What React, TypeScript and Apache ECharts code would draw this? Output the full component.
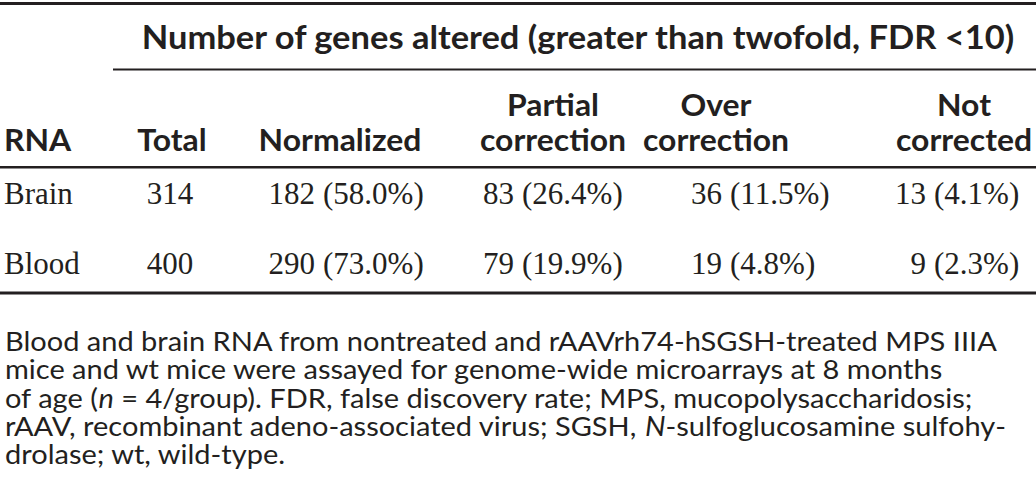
import React, { useEffect, useRef } from 'react';
import * as echarts from 'echarts';

// ---------- data ----------
const spannerTitle = 'Number of genes altered (greater than twofold, FDR <10)';
const headerLabels = ['RNA', 'Total', 'Normalized', 'Partial\ncorrection', 'Over\ncorrection', 'Not\ncorrected'];
const rowLabels = ['Brain', 'Blood'];
const totalGenes = [314, 400];
const normalizedCounts = [182, 290];
const normalizedPct = ['58.0', '73.0'];
const partialCounts = [83, 79];
const partialPct = ['26.4', '19.9'];
const overCounts = [36, 19];
const overPct = ['11.5', '4.8'];
const notCorrectedCounts = [13, 9];
const notCorrectedPct = ['4.1', '2.3'];
const captionLines = [
  'Blood and brain RNA from nontreated and rAAVrh74-hSGSH-treated MPS IIIA',
  'mice and wt mice were assayed for genome-wide microarrays at 8 months',
  'of age ({i|n} = 4/group). FDR, false discovery rate; MPS, mucopolysaccharidosis;',
  'rAAV, recombinant adeno-associated virus; SGSH, {i|N}-sulfoglucosamine sulfohy-',
  'drolase; wt, wild-type.',
];

// ---------- layout ----------
const W = 1036;
const H = 482;
const INK = '#231f20';
const TITLE_FONT = 'bold 31.5px Lato';
const TITLE_SCALE_X = 1.095;
const HEAD_FONT = 'bold 31px Lato';
const HEAD_SCALE_X = 1.03;
const BODY_FONT = '31px "Liberation Serif"';
const CAP_SIZE = 26.5;
const CAP_FONT = `${CAP_SIZE}px Lato`;
const CAP_SCALE_X = 1.095;
const headerX = [4, 172, 340, 553, 716, 964];
const headerLastLineY = 139;
const headerLineGap = 35;
const rowY = [193, 263];
const totalX = 170;
const parenX = [323, 522, 730, 934];
const captionY0 = 341;
const captionGap = 28.25;

function txt(text: string, x: number, y: number, font: string, align: string, extra: any = {}, scaleX = 1) {
  return {
    type: 'text',
    x,
    y,
    scaleX,
    silent: true,
    style: {
      text,
      font,
      fill: INK,
      align,
      verticalAlign: 'middle',
      textAlign: align,
      textVerticalAlign: 'middle',
      ...extra,
    },
  };
}

function rule(x1: number, x2: number, y: number, h: number) {
  return { type: 'rect', silent: true, shape: { x: x1, y, width: x2 - x1, height: h }, style: { fill: INK } };
}

export default function App() {
  const ref = useRef<HTMLDivElement>(null);
  useEffect(() => {
    document.body.style.margin = '0';
    document.body.style.background = '#ffffff';
    if (!ref.current) return;
    const chart = echarts.init(ref.current, null, { renderer: 'svg', width: W, height: H });
    const els: any[] = [];

    // rules
    els.push(rule(0, W, 2, 3));
    els.push(rule(113, W, 68.5, 2));
    els.push(rule(0, W, 166, 2.5));
    els.push(rule(0, W, 291.5, 3));

    // spanner
    els.push(txt(spannerTitle, 578, 37, TITLE_FONT, 'center', {}, TITLE_SCALE_X));

    // column headers
    headerLabels.forEach((lab, ci) => {
      const lines = lab.split('\n');
      lines.forEach((ln, li) => {
        const y = headerLastLineY - (lines.length - 1 - li) * headerLineGap;
        els.push(txt(ln, headerX[ci], y, HEAD_FONT, ci === 0 ? 'left' : 'center', {}, HEAD_SCALE_X));
      });
    });

    // body rows
    const countCols = [
      [normalizedCounts, normalizedPct],
      [partialCounts, partialPct],
      [overCounts, overPct],
      [notCorrectedCounts, notCorrectedPct],
    ] as [number[], string[]][];
    rowLabels.forEach((lab, ri) => {
      const y = rowY[ri];
      els.push(txt(lab, 4, y, BODY_FONT, 'left'));
      els.push(txt(String(totalGenes[ri]), totalX, y, BODY_FONT, 'center'));
      countCols.forEach(([counts, pcts], ci) => {
        els.push(txt(String(counts[ri]), parenX[ci] - 8, y, BODY_FONT, 'right'));
        els.push(txt('(' + pcts[ri] + '%)', parenX[ci], y, BODY_FONT, 'left'));
      });
    });

    // caption
    captionLines.forEach((ln, i) => {
      els.push(
        txt(
          ln,
          5,
          captionY0 + i * captionGap,
          CAP_FONT,
          'left',
          { lineHeight: 27, rich: { i: { font: `italic ${CAP_SIZE}px Lato`, fill: INK, lineHeight: 27 } } },
          CAP_SCALE_X
        )
      );
    });

    chart.setOption({
      animation: false,
      backgroundColor: '#ffffff',
      graphic: { elements: els },
    });
    return () => chart.dispose();
  }, []);
  return <div ref={ref} style={{ width: W, height: H }} />;
}
